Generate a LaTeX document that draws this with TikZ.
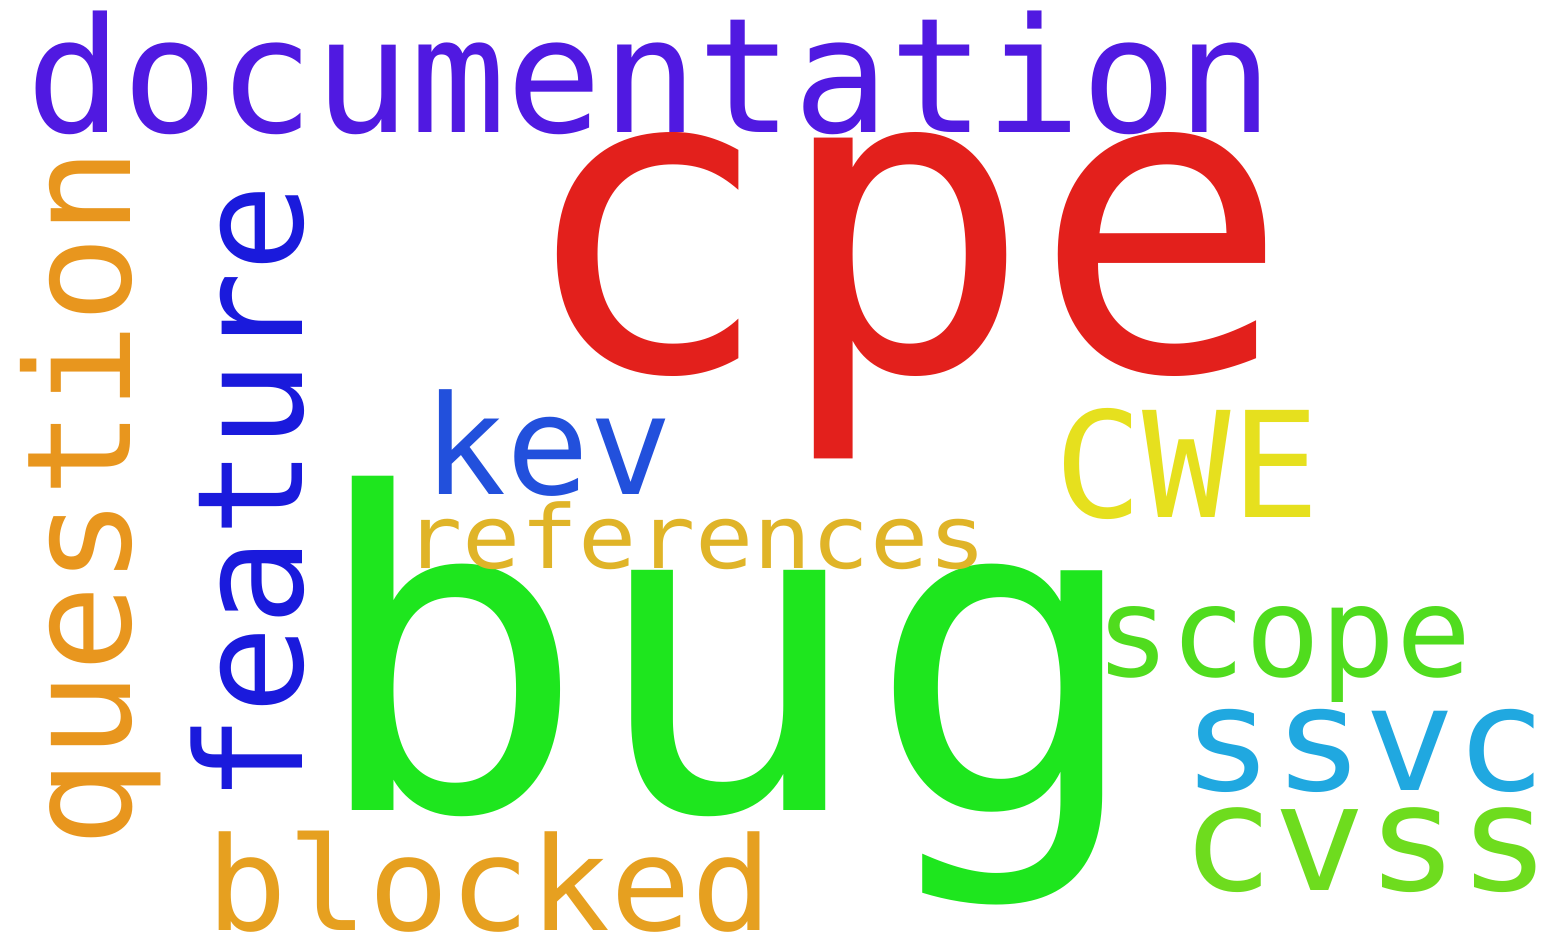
\documentclass[tikz,border=0pt]{standalone}
\usepackage{fontspec}
\newfontfamily\wcfont{DejaVu Sans Mono}
\definecolor{cdoc}{RGB}{80,25,225}
\definecolor{ccpe}{RGB}{227,32,28}
\definecolor{cbug}{RGB}{30,230,30}
\definecolor{cques}{RGB}{232,150,30}
\definecolor{cfeat}{RGB}{26,26,220}
\definecolor{ckev}{RGB}{34,80,220}
\definecolor{ccwe}{RGB}{230,224,30}
\definecolor{cref}{RGB}{224,180,40}
\definecolor{cscope}{RGB}{80,220,30}
\definecolor{cssvc}{RGB}{32,168,224}
\definecolor{ccvss}{RGB}{110,220,30}
\definecolor{cblock}{RGB}{230,160,32}
\tikzset{word/.style={inner sep=0pt, outer sep=0pt, anchor=base west}}
\newcommand{\wrd}[3]{\scalebox{#2}[1]{\wcfont\fontsize{#1}{#1}\selectfont #3}}
\begin{document}
\begin{tikzpicture}[x=1pt,y=-1pt]
\path[use as bounding box, fill=white] (0,0) rectangle (1552,937);
\node[word, text=cdoc] (documentation) at (27,132) {\wrd{160}{0.995}{documentation}};
\node[word, text=ccpe] (cpe) at (516,370) {\wrd{425}{1.01}{cpe}};
\node[word, text=cbug] (bug) at (308,810) {\wrd{440}{1.055}{bug}};
\node[word, text=ckev] (kev) at (423,494) {\wrd{138}{1.0}{kev}};
\node[word, text=ccwe] (cwe) at (1054,517) {\wrd{147}{1.0}{CWE}};
\node[word, text=cref] (references) at (404,568) {\wrd{88}{1.1}{references}};
\node[word, text=cscope] (scope) at (1095,676) {\wrd{125}{1.0}{scope}};
\node[word, text=cssvc] (ssvc) at (1182,790) {\wrd{145}{1.045}{ssvc}};
\node[word, text=ccvss] (cvss) at (1181,890) {\wrd{148}{1.04}{cvss}};
\node[word, text=cblock] (blocked) at (206,930) {\wrd{130}{1.035}{blocked}};
\node[word, text=cques, rotate=90] (question) at (130,847) {\wrd{145}{1.0}{question}};
\node[word, text=cfeat, rotate=90] (feature) at (302,803) {\wrd{147}{1.0}{feature}};
\end{tikzpicture}
\end{document}
